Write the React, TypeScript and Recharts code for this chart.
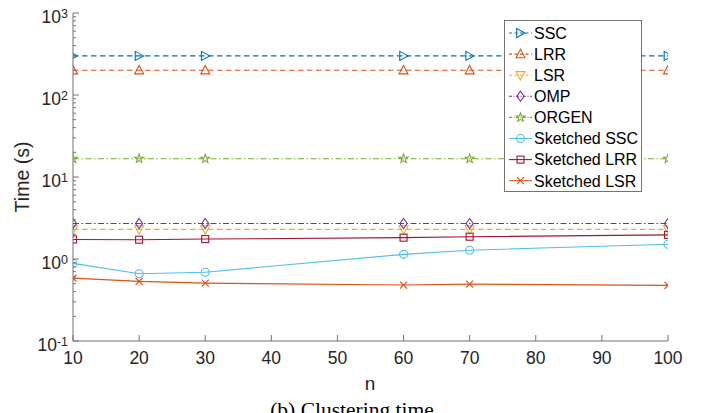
import React from 'react';
import { LineChart, Line, XAxis, YAxis } from 'recharts';

const nValues = [10, 20, 30, 60, 70, 100];
const sscTime = [300, 300, 300, 300, 300, 300];
const lrrTime = [200, 200, 200, 200, 200, 200];
const lsrTime = [2.3, 2.3, 2.3, 2.3, 2.3, 2.3];
const ompTime = [2.71, 2.71, 2.71, 2.71, 2.71, 2.71];
const orgenTime = [16.7, 16.7, 16.7, 16.7, 16.7, 16.7];
const sketchedSscTime = [0.885, 0.66, 0.69, 1.14, 1.28, 1.51];
const sketchedLrrTime = [1.73, 1.72, 1.75, 1.82, 1.87, 1.97];
const sketchedLsrTime = [0.585, 0.533, 0.508, 0.481, 0.494, 0.477];

const xTicks = [10, 20, 30, 40, 50, 60, 70, 80, 90, 100];
const yExponents = [-1, 0, 1, 2, 3];
const yMantissas = [1, 2, 3, 4, 5, 6, 7, 8, 9];

const yTicks: number[] = [];
yExponents.forEach((e) => {
  yMantissas.forEach((m) => {
    const v = m * Math.pow(10, e);
    if (v <= 1000 + 1e-9) yTicks.push(Number(v.toPrecision(6)));
  });
});

type Marker = 'tright' | 'tup' | 'tdown' | 'diamond' | 'star' | 'circle' | 'square' | 'x';

const series: { key: string; name: string; values: number[]; color: string; dash?: string; marker: Marker }[] = [
  { key: 'ssc', name: 'SSC', values: sscTime, color: '#0072BD', dash: '5.5 3.5', marker: 'tright' },
  { key: 'lrr', name: 'LRR', values: lrrTime, color: '#D95319', dash: '5.5 3.5', marker: 'tup' },
  { key: 'lsr', name: 'LSR', values: lsrTime, color: '#EDB120', dash: '5.5 3.5', marker: 'tdown' },
  { key: 'omp', name: 'OMP', values: ompTime, color: '#7E2F8E', dash: '6 2.5 1.5 2.5', marker: 'diamond' },
  { key: 'orgen', name: 'ORGEN', values: orgenTime, color: '#77AC30', dash: '6 2.5 1.5 2.5', marker: 'star' },
  { key: 'sssc', name: 'Sketched SSC', values: sketchedSscTime, color: '#4DBEEE', marker: 'circle' },
  { key: 'slrr', name: 'Sketched LRR', values: sketchedLrrTime, color: '#A2142F', marker: 'square' },
  { key: 'slsr', name: 'Sketched LSR', values: sketchedLsrTime, color: '#D95319', marker: 'x' },
];

const data = nValues.map((n, i) => {
  const row: Record<string, number> = { n };
  series.forEach((s) => {
    row[s.key] = s.values[i];
  });
  return row;
});

const AXIS = '#737373';
const TEXT = '#262626';
const FONT = '"Liberation Sans", Arial, Helvetica, sans-serif';

function markerShape(type: Marker, cx: number, cy: number, color: string, key?: string) {
  const common = { stroke: color, strokeWidth: 1.1, fill: 'none', key } as any;
  switch (type) {
    case 'tright':
      return <polygon {...common} points={`${cx - 3.8},${cy - 4.5} ${cx + 4.5},${cy} ${cx - 3.8},${cy + 4.5}`} />;
    case 'tup':
      return <polygon {...common} points={`${cx},${cy - 4.8} ${cx + 4.5},${cy + 3.6} ${cx - 4.5},${cy + 3.6}`} />;
    case 'tdown':
      return <polygon {...common} points={`${cx},${cy + 4.8} ${cx + 4.5},${cy - 3.6} ${cx - 4.5},${cy - 3.6}`} />;
    case 'diamond':
      return <polygon {...common} points={`${cx},${cy - 5} ${cx + 3.6},${cy} ${cx},${cy + 5} ${cx - 3.6},${cy}`} />;
    case 'star': {
      const pts: string[] = [];
      for (let i = 0; i < 10; i++) {
        const r = i % 2 === 0 ? 4.6 : 1.9;
        const a = -Math.PI / 2 + (i * Math.PI) / 5;
        pts.push(`${cx + r * Math.cos(a)},${cy + r * Math.sin(a)}`);
      }
      return <polygon {...common} points={pts.join(' ')} />;
    }
    case 'circle':
      return <circle {...common} cx={cx} cy={cy} r={4} />;
    case 'square':
      return <rect {...common} x={cx - 3.5} y={cy - 3.5} width={7} height={7} />;
    case 'x':
      return (
        <g key={key}>
          <line x1={cx - 3.5} y1={cy - 3.5} x2={cx + 3.5} y2={cy + 3.5} stroke={color} strokeWidth={1.2} />
          <line x1={cx - 3.5} y1={cy + 3.5} x2={cx + 3.5} y2={cy - 3.5} stroke={color} strokeWidth={1.2} />
        </g>
      );
  }
  return null;
}

const XTick = (props: any) => {
  const { x, y, payload } = props;
  return (
    <g>
      <line x1={x} x2={x} y1={y} y2={y - 6} stroke={AXIS} strokeWidth={1} />
      <text x={x} y={y + 23} textAnchor="middle" fontSize={17.5} fill={TEXT} fontFamily={FONT}>
        {payload.value}
      </text>
    </g>
  );
};

const YTick = (props: any) => {
  const { x, y, payload } = props;
  const v = payload.value as number;
  const lg = Math.log10(v);
  const exp = Math.round(lg);
  const major = Math.abs(lg - exp) < 1e-6;
  return (
    <g>
      <line x1={x} x2={x + (major ? 6 : 3)} y1={y} y2={y} stroke={AXIS} strokeWidth={1} />
      {major && (
        <text x={x - 5} y={y + 9.5} textAnchor="end" fontSize={17.5} fill={TEXT} fontFamily={FONT}>
          10
          <tspan dy={-5} fontSize={12.5}>
            {exp}
          </tspan>
        </text>
      )}
    </g>
  );
};

const LegendBox = () => {
  const W = 138;
  const H = 172;
  return (
    <svg width={W} height={H} style={{ position: 'absolute', left: 504, top: 20 }}>
      <rect x={0.5} y={0.5} width={W - 1} height={H - 1} fill="#fff" stroke={AXIS} strokeWidth={1} />
      {series.map((s, i) => {
        const cy = 13 + i * 21.1;
        return (
          <g key={s.key}>
            <line
              x1={5}
              x2={28}
              y1={cy}
              y2={cy}
              stroke={s.color}
              strokeWidth={1.1}
              strokeDasharray={s.dash ? (s.dash.split(' ').length > 2 ? '3 1.5 1 1.5' : '3 2.5') : undefined}
            />
            {markerShape(s.marker, 16.5, cy, s.color)}
            <text x={30} y={cy + 5.8} fontSize={16} fill="#000" fontFamily={FONT}>
              {s.name}
            </text>
          </g>
        );
      })}
    </svg>
  );
};

export default function App() {
  return (
    <div style={{ position: 'absolute', left: 0, top: 0, width: 710, height: 413, overflow: 'hidden', background: '#fff' }}>
      <LineChart width={710} height={413} data={data} margin={{ top: 13, right: 42, left: 0, bottom: 0 }}>
        <XAxis
          dataKey="n"
          type="number"
          domain={[10, 100]}
          ticks={xTicks}
          interval={0}
          allowDataOverflow
          height={72}
          tickSize={0}
          tickMargin={0}
          tickLine={false}
          axisLine={{ stroke: AXIS, strokeWidth: 1 }}
          tick={<XTick />}
        />
        <YAxis
          scale="log"
          type="number"
          domain={[0.1, 1000]}
          ticks={yTicks}
          interval={0}
          allowDataOverflow
          width={73}
          tickSize={0}
          tickMargin={0}
          tickLine={false}
          axisLine={{ stroke: AXIS, strokeWidth: 1 }}
          tick={<YTick />}
        />
        {series.map((s) => (
          <Line
            key={s.key}
            dataKey={s.key}
            name={s.name}
            stroke={s.color}
            strokeWidth={1.1}
            strokeDasharray={s.dash}
            isAnimationActive={false}
            dot={(p: any) => markerShape(s.marker, p.cx, p.cy, s.color, `${s.key}-${p.index}`)}
            activeDot={false}
          />
        ))}
      </LineChart>
      <div
        style={{
          position: 'absolute',
          left: 0,
          top: 373,
          width: 740,
          textAlign: 'center',
          fontFamily: FONT,
          fontSize: 19,
          color: TEXT,
        }}
      >
        n
      </div>
      <div
        style={{
          position: 'absolute',
          left: 23,
          top: 177,
          transform: 'translate(-50%, -50%) rotate(-90deg)',
          fontFamily: FONT,
          fontSize: 19.5,
          color: TEXT,
          whiteSpace: 'nowrap',
          lineHeight: 1,
        }}
      >
        Time (s)
      </div>
      <div
        style={{
          position: 'absolute',
          left: 0,
          top: 398,
          width: 704,
          textAlign: 'center',
          fontFamily: '"Liberation Serif", "Times New Roman", serif',
          fontSize: 21.5,
          color: '#000',
          whiteSpace: 'nowrap',
        }}
      >
        (b) Clustering time
      </div>
      <LegendBox />
    </div>
  );
}
